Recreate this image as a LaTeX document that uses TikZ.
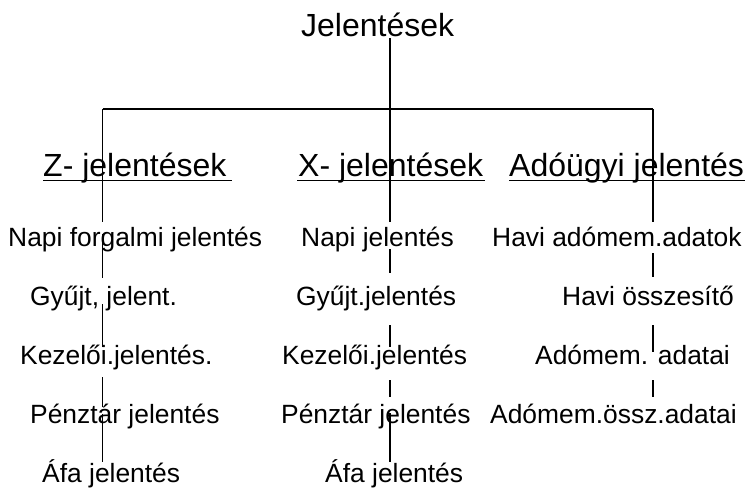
\documentclass[tikz,border=0pt]{standalone}
\usepackage{fontspec}
\setmainfont{Liberation Sans}
\begin{document}
\begin{tikzpicture}[x=1pt,y=-1pt,
  big/.style={anchor=base west,inner sep=0pt,font=\fontsize{32}{36}\selectfont},
  item/.style={anchor=base west,inner sep=0pt,font=\fontsize{26.4}{30}\selectfont},
  conn/.style={line width=1.2pt},
  uline/.style={line width=1.8pt}]
\useasboundingbox (0,0) rectangle (746,493);
% title and headers
\node[big] (root) at (301,36) {Jelentések};
\node[big] (hz) at (43,176) {Z- jelentések};
\node[big] (hx) at (298,176) {X- jelentések};
\node[big] (ha) at (509,176) {Adóügyi jelentés};
% left column
\node[item] (z1) at (8,246) {Napi forgalmi jelentés};
\node[item] (z2) at (30,305) {Gyűjt, jelent.};
\node[item] (z3) at (20,364) {Kezelői.jelentés.};
\node[item] (z4) at (30,423) {Pénztár jelentés};
\node[item] (z5) at (42,482) {Áfa jelentés};
% middle column
\node[item] (x1) at (301,246) {Napi jelentés};
\node[item] (x2) at (296,305) {Gyűjt.jelentés};
\node[item] (x3) at (282,364) {Kezelői.jelentés};
\node[item] (x4) at (281,423) {Pénztár jelentés};
\node[item] (x5) at (325,482) {Áfa jelentés};
% right column
\node[item] (a1) at (492,246) {Havi adómem.adatok};
\node[item] (a2) at (562,305) {Havi összesítő};
\node[item] (a3) at (535,364) {Adómem. adatai};
\node[item] (a4) at (490,423) {Adómem.össz.adatai};
% underlines
\draw[uline] ([yshift=-4.5pt]hz.base west) -- ([xshift=5pt,yshift=-4.5pt]hz.base east);
\draw[uline] ([xshift=-1pt,yshift=-4.5pt]hx.base west) -- ([xshift=2pt,yshift=-4.5pt]hx.base east);
\draw[uline] ([yshift=-4.5pt]ha.base west) -- ([xshift=1pt,yshift=-4.5pt]ha.base east);
% connector coordinates
\coordinate (rb) at (390,38);
\coordinate (hl) at (102.5,109);
\coordinate (hm) at (390,109);
\coordinate (hr) at (653,109);
% trunk and bar
\draw[conn] (rb) -- (390,222);
\draw[conn] (hl) -- (hr);
% left column segments
\draw[conn] (hl) -- (102.5,222);
\draw[conn] (102.5,234) -- (102.5,278);
\draw[conn] (102.5,304) -- (102.5,347);
\draw[conn] (102.5,377) -- (102.5,407);
\draw[conn] (102.5,414) -- (102.5,462);
% middle column segments
\draw[conn] (390,249) -- (390,273);
\draw[conn] (390,325) -- (390,347);
\draw[conn] (390,380) -- (390,397);
\draw[conn] (390,413) -- (390,462);
% right column segments
\draw[conn] (hr) -- (653,222);
\draw[conn] (653,253) -- (653,277);
\draw[conn] (653,325) -- (653,352);
\draw[conn] (653,380) -- (653,397);
\end{tikzpicture}
\end{document}
